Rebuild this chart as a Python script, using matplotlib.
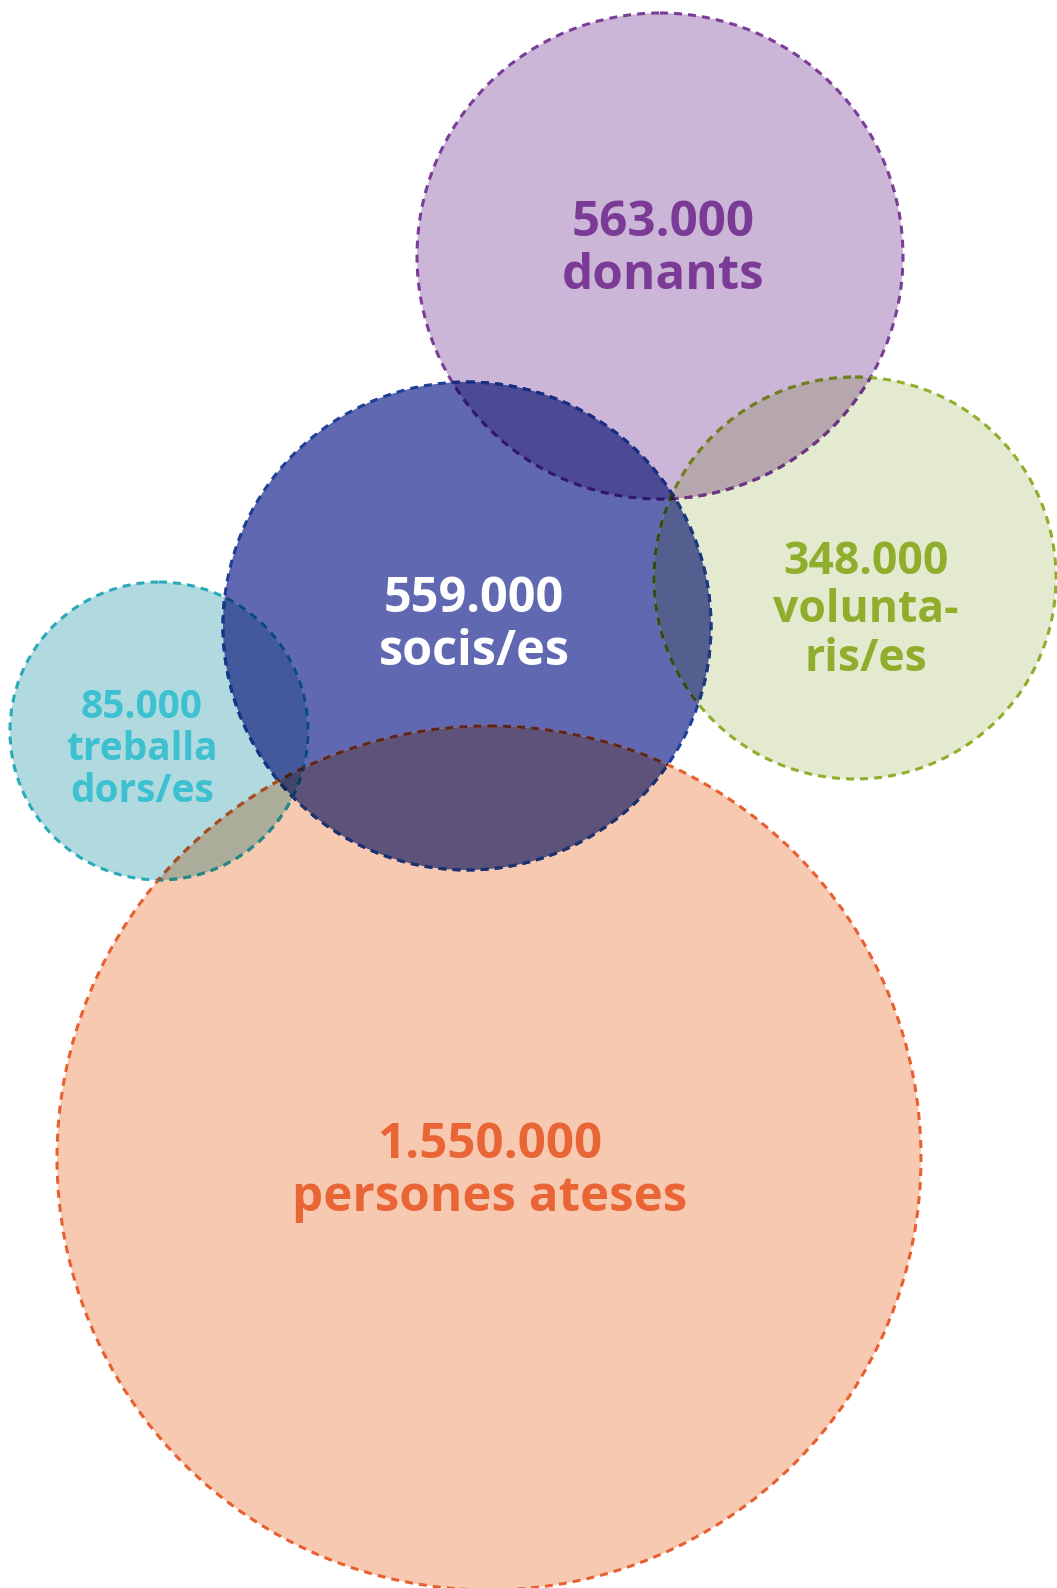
import numpy as np
import matplotlib
matplotlib.use("Agg")
import matplotlib.pyplot as plt
from matplotlib.patches import Circle, Polygon
from matplotlib.colors import to_rgb
from itertools import combinations

# ---- data ----
names = ["donants", "socis", "voluntaris", "treballadors", "ateses"]
labels = ["563.000\ndonants", "559.000\nsocis/es", "348.000\nvolunta-\nris/es",
          "85.000\ntreballa\ndors/es", "1.550.000\npersones ateses"]
values = [563000, 559000, 348000, 85000, 1550000]

# ---- layout / style (pixel coordinates) ----
centers = [(660, 256), (467, 626), (855, 578), (159, 731), (489, 1158)]
radii = [243, 244, 201, 149, 432]
fills = ["#cbb6d8", "#5f68b0", "#e4eacf", "#b1dae0", "#f8c9b1"]
edges = ["#7a3d98", "#1e3f98", "#8fae2c", "#2aaab8", "#e85f30"]
text_colors = ["#7b3a96", "#ffffff", "#8eae2c", "#3dc1d0", "#e96535"]
text_pos = [(663, 250), (474, 626), (866, 611), (142, 750), (490, 1172)]
text_size = [35.5, 35, 32, 28, 35.5]
text_ls = [1.1, 1.1, 1.1, 1.1, 1.1]

W, H = 1057, 1588
fig = plt.figure(figsize=(W / 100, H / 100), dpi=100)
ax = fig.add_axes([0, 0, 1, 1])
ax.set_xlim(0, W)
ax.set_ylim(H, 0)
ax.axis("off")


def region_polygon(idx):
    """Convex polygon of intersection of circles in idx."""
    pts = []
    th = np.linspace(0, 2 * np.pi, 2400, endpoint=False)
    for i in idx:
        cx, cy = centers[i]
        r = radii[i]
        p = np.column_stack([cx + r * np.cos(th), cy + r * np.sin(th)])
        ok = np.ones(len(p), bool)
        for j in idx:
            if j == i:
                continue
            d = np.hypot(p[:, 0] - centers[j][0], p[:, 1] - centers[j][1])
            ok &= d <= radii[j]
        pts.append(p[ok])
    for i, j in combinations(idx, 2):
        (x0, y0), r0 = centers[i], radii[i]
        (x1, y1), r1 = centers[j], radii[j]
        d = np.hypot(x1 - x0, y1 - y0)
        if d >= r0 + r1 or d <= abs(r0 - r1):
            continue
        a = (r0 ** 2 - r1 ** 2 + d ** 2) / (2 * d)
        h = np.sqrt(max(r0 ** 2 - a ** 2, 0))
        xm = x0 + a * (x1 - x0) / d
        ym = y0 + a * (y1 - y0) / d
        cand = np.array([[xm + h * (y1 - y0) / d, ym - h * (x1 - x0) / d],
                         [xm - h * (y1 - y0) / d, ym + h * (x1 - x0) / d]])
        ok = np.ones(2, bool)
        for k in idx:
            if k in (i, j):
                continue
            ok &= np.hypot(cand[:, 0] - centers[k][0], cand[:, 1] - centers[k][1]) <= radii[k] + 1e-6
        pts.append(cand[ok])
    pts = np.vstack(pts) if pts else np.zeros((0, 2))
    if len(pts) < 3:
        return None
    c = pts.mean(axis=0)
    ang = np.arctan2(pts[:, 1] - c[1], pts[:, 0] - c[0])
    return pts[np.argsort(ang)]


def mult(cols):
    out = np.ones(3)
    for c in cols:
        out *= np.array(to_rgb(c))
    return tuple(out)


n = len(names)
subsets = []
for k in range(2, n + 1):
    for s in combinations(range(n), k):
        poly = region_polygon(s)
        if poly is not None:
            subsets.append((s, poly))

# fills (multiply blending)
for i in range(n):
    ax.add_patch(Circle(centers[i], radii[i], facecolor=fills[i], edgecolor="none", zorder=1))
for s, poly in subsets:
    ax.add_patch(Polygon(poly, closed=True, facecolor=mult([fills[i] for i in s]),
                         edgecolor="none", zorder=1 + len(s)))

# dashed edges, darkened where they pass over other circles
dash = (0, (2.6, 2.0))
lw = 2.2
for i in range(n):
    ax.add_patch(Circle(centers[i], radii[i], facecolor="none", edgecolor=edges[i],
                        lw=lw, linestyle=dash, zorder=10))
    others = [j for j in range(n) if j != i]
    for k in range(1, len(others) + 1):
        for s in combinations(others, k):
            if k == 1:
                j = s[0]
                clip = Circle(centers[j], radii[j], transform=ax.transData)
            else:
                poly = region_polygon(s)
                if poly is None:
                    continue
                clip = Polygon(poly, closed=True, transform=ax.transData)
            c = Circle(centers[i], radii[i], facecolor="none",
                       edgecolor=mult([edges[i]] + [fills[j] for j in s]),
                       lw=lw, linestyle=dash, zorder=10 + k)
            ax.add_patch(c)
            c.set_clip_path(clip)

# labels
for i in range(n):
    ax.text(text_pos[i][0], text_pos[i][1], labels[i], color=text_colors[i],
            fontsize=text_size[i], fontfamily="Open Sans", fontweight="bold",
            ha="center", va="center", multialignment="center",
            linespacing=text_ls[i], zorder=30)

fig.savefig("out.png", dpi=100)
